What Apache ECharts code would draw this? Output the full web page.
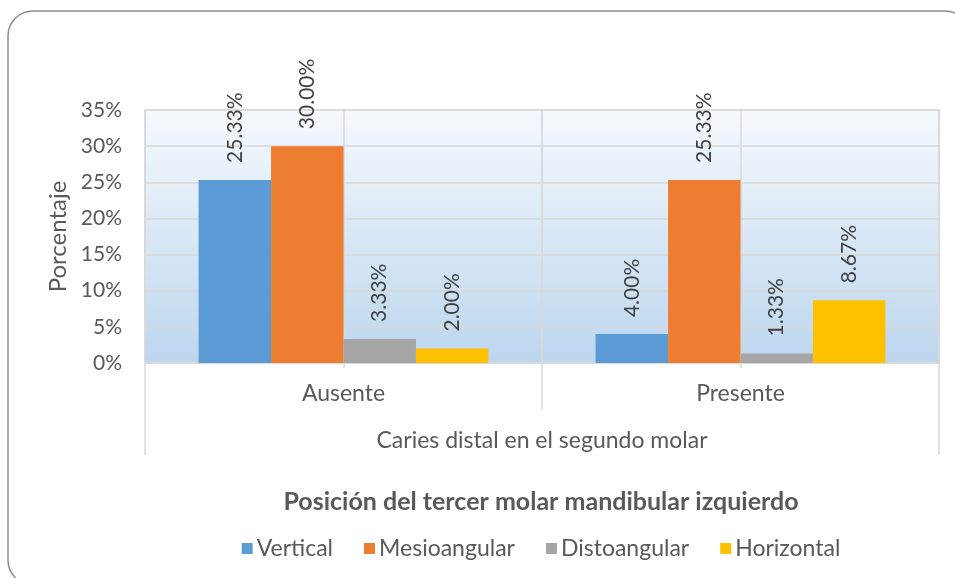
<!DOCTYPE html>
<html>
<head>
<meta charset="utf-8">
<script src="https://cdn.jsdelivr.net/npm/echarts@6/dist/echarts.min.js"></script>
<style>
  html, body { margin: 0; padding: 0; background: #fff; overflow: hidden; }
  #chart { width: 1082px; height: 578px; }
</style>
</head>
<body>
<div id="chart"></div>
<script>
// the chart area of the original runs past the right edge of the picture,
// so the div is wider than the window and title/legend center at x=541
var categories = ['Ausente', 'Presente'];
var groupLabel = 'Caries distal en el segundo molar';
var seriesNames = ['Vertical', 'Mesioangular', 'Distoangular', 'Horizontal'];
var vertical = [25.33, 4.00];
var mesioangular = [30.00, 25.33];
var distoangular = [3.33, 1.33];
var horizontal = [2.00, 8.67];
var colors = ['#5b9bd5', '#ed7d31', '#a5a5a5', '#ffc000'];

var font = 'Lato, "Noto Sans", sans-serif';
var textColor = '#595959';
var lineColor = '#d9d9d9';

var chart = echarts.init(document.getElementById('chart'));

function makeSeries(name, values, i) {
    return {
        name: name,
        type: 'bar',
        data: values,
        xAxisIndex: 0,
        barGap: '0%',
        barCategoryGap: '27%',
        itemStyle: { color: colors[i] },
        label: {
            show: true,
            position: 'top',
            rotate: 90,
            align: 'left',
            verticalAlign: 'middle',
            distance: 17,
            fontFamily: font,
            fontSize: 21,
            color: '#404040',
            formatter: function (p) { return p.value.toFixed(2) + '%'; }
        }
    };
}

var option = {
    animation: false,
    backgroundColor: '#fff',
    title: {
        text: 'Posición del tercer molar mandibular izquierdo',
        left: 'center',
        top: 484,
        textStyle: { fontFamily: font, fontSize: 25, fontWeight: 'bold', color: textColor }
    },
    legend: {
        data: seriesNames,
        left: 'center',
        top: 532,
        itemWidth: 11,
        itemHeight: 11,
        itemGap: 31,
        icon: 'rect',
        textStyle: { fontFamily: font, fontSize: 23, color: textColor, padding: [0, 0, 0, -1] }
    },
    graphic: [{
        type: 'rect',
        shape: { x: 8, y: 11, width: 962, height: 574, r: 25 },
        style: { fill: null, stroke: '#8c8c8c', lineWidth: 1.5 },
        silent: true
    }],
    grid: {
        left: 145,
        right: 143,
        top: 110,
        bottom: 215,
        show: true,
        borderColor: lineColor,
        borderWidth: 1.5,
        backgroundColor: new echarts.graphic.LinearGradient(0, 0, 0, 1, [
            { offset: 0, color: '#f5f9fd' },
            { offset: 1, color: '#bcd6ee' }
        ])
    },
    xAxis: [{
        type: 'category',
        data: categories,
        axisLine: { lineStyle: { color: lineColor, width: 1.5 } },
        axisTick: { show: true, length: 47, lineStyle: { color: lineColor, width: 1.5 } },
        splitLine: { show: true, lineStyle: { color: lineColor, width: 1.5 } },
        axisLabel: { margin: 19, fontFamily: font, fontSize: 23, color: textColor }
    }, {
        type: 'category',
        position: 'bottom',
        data: ['', '', '', ''],
        axisLine: { show: false },
        axisTick: { show: true, length: 5, lineStyle: { color: lineColor, width: 1.5 } },
        splitLine: { show: true, lineStyle: { color: lineColor, width: 1.5 } },
        axisLabel: { show: false }
    }, {
        type: 'category',
        position: 'bottom',
        data: [groupLabel],
        axisLine: { show: false },
        axisTick: { show: true, length: 92, lineStyle: { color: lineColor, width: 1.5 } },
        splitLine: { show: false },
        axisLabel: { margin: 66, fontFamily: font, fontSize: 23, color: textColor }
    }],
    yAxis: {
        type: 'value',
        min: 0,
        max: 35,
        interval: 5,
        name: 'Porcentaje',
        nameLocation: 'middle',
        nameGap: 74,
        nameTextStyle: { fontFamily: font, fontSize: 24, color: textColor },
        axisLine: { show: false },
        axisTick: { show: false },
        splitLine: { show: true, lineStyle: { color: lineColor, width: 1.5 } },
        axisLabel: {
            margin: 23,
            fontFamily: font,
            fontSize: 21,
            color: textColor,
            formatter: function (v) { return v + '%'; }
        }
    },
    series: [
        makeSeries(seriesNames[0], vertical, 0),
        makeSeries(seriesNames[1], mesioangular, 1),
        makeSeries(seriesNames[2], distoangular, 2),
        makeSeries(seriesNames[3], horizontal, 3)
    ]
};

chart.setOption(option);
</script>
</body>
</html>
